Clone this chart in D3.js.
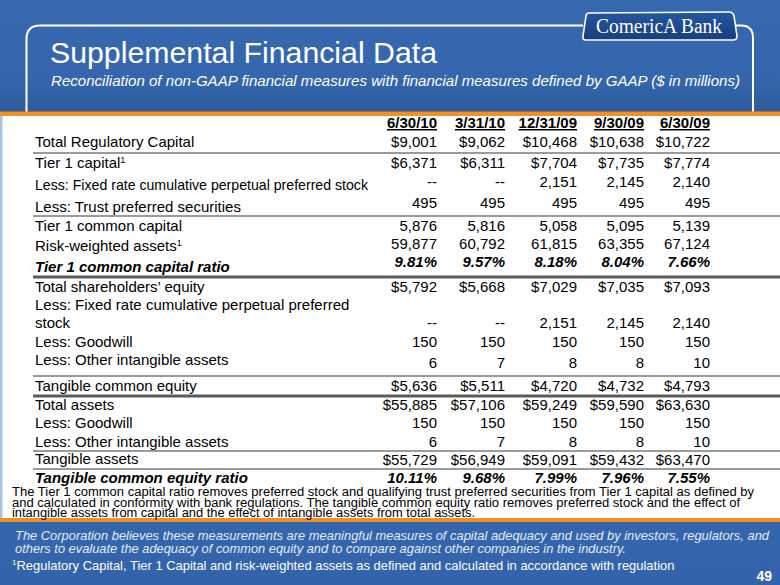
<!DOCTYPE html>
<html>
<head>
<meta charset="utf-8">
<script src="https://cdn.jsdelivr.net/npm/d3@7"></script>
<style>
  html, body { margin: 0; padding: 0; background: #fff; }
  svg { display: block; font-family: "Liberation Sans", Arial, sans-serif; }
</style>
</head>
<body>
<svg id="chart" width="780" height="585"></svg>
<script>
// ---------------- DATA ----------------
const periods = ["6/30/10", "3/31/10", "12/31/09", "9/30/09", "6/30/09"];

const totalRegulatoryCapital   = [9001, 9062, 10468, 10638, 10722];
const tier1Capital             = [6371, 6311, 7704, 7735, 7774];
const fixedRatePreferredStock  = [null, null, 2151, 2145, 2140];
const trustPreferredSecurities = [495, 495, 495, 495, 495];
const tier1CommonCapital       = [5876, 5816, 5058, 5095, 5139];
const riskWeightedAssets       = [59877, 60792, 61815, 63355, 67124];
const tier1CommonCapitalRatio  = [9.81, 9.57, 8.18, 8.04, 7.66];
const totalShareholdersEquity  = [5792, 5668, 7029, 7035, 7093];
const goodwill                 = [150, 150, 150, 150, 150];
const otherIntangibleAssets    = [6, 7, 8, 8, 10];
const tangibleCommonEquity     = [5636, 5511, 4720, 4732, 4793];
const totalAssets              = [55885, 57106, 59249, 59590, 63630];
const tangibleAssets           = [55729, 56949, 59091, 59432, 63470];
const tangibleCommonEquityRatio = [10.11, 9.68, 7.99, 7.96, 7.55];

const rowLabels = [
  "Total Regulatory Capital",
  "Tier 1 capital",
  "Less: Fixed rate cumulative perpetual preferred stock",
  "Less: Trust preferred securities",
  "Tier 1 common capital",
  "Risk-weighted assets",
  "Tier 1 common capital ratio",
  "Total shareholders\u2019 equity",
  "Less: Fixed rate cumulative perpetual preferred|stock",
  "Less: Goodwill",
  "Less: Other intangible assets",
  "Tangible common equity",
  "Total assets",
  "Less: Goodwill ",
  "Less: Other intangible assets ",
  "Tangible assets",
  "Tangible common equity ratio"
];

const titleText = "Supplemental Financial Data";
const subtitleText = "Reconciliation of non-GAAP financial measures with financial measures defined by GAAP ($ in millions)";
const noteLines = [
  "The Tier 1 common capital ratio removes preferred stock and qualifying trust preferred securities from Tier 1 capital as defined by",
  "and calculated in conformity with bank regulations.  The tangible common equity ratio removes preferred stock and the effect of",
  "intangible assets from capital and the effect of intangible assets from total assets."
];
const footerLines = [
  "The Corporation believes these measurements are meaningful measures of capital adequacy and used by investors, regulators, and",
  "others to evaluate the adequacy of common equity and to compare against other companies in the industry."
];
const footnoteText = "Regulatory Capital, Tier 1 Capital and risk-weighted assets as defined and calculated in accordance with regulation";
const pageNumber = "49";

// table built from the arrays
const rowValues = [
  totalRegulatoryCapital, tier1Capital, fixedRatePreferredStock, trustPreferredSecurities,
  tier1CommonCapital, riskWeightedAssets, tier1CommonCapitalRatio, totalShareholdersEquity,
  fixedRatePreferredStock, goodwill, otherIntangibleAssets, tangibleCommonEquity,
  totalAssets, goodwill, otherIntangibleAssets, tangibleAssets, tangibleCommonEquityRatio
];
const rowKinds = ["dollar","dollar","num","num","num","num","pct","dollar","num","num","num","dollar","dollar","num","num","dollar","pct"];
const rowSup = {"Tier 1 capital": "1", "Risk-weighted assets": "1"};
const rows = rowLabels.map((l, i) => ({label: l, values: rowValues[i], kind: rowKinds[i], sup: rowSup[l]}));

// ---------------- LAYOUT ----------------
const W = 780, H = 585;
const labelBase = [147, 168, 190, 212, 231, 251, 272, 292, 310, 347, 365, 391, 410, 428, 447, 464, 483];
const valueBase = [147, 168, 187, 208, 231, 249, 267, 292, 328, 347, 368, 391, 410, 428, 447, 465, 483];
const labelFit = {"Less: Fixed rate cumulative perpetual preferred stock": 333};
const yLabel = d3.scaleOrdinal().domain(rowLabels).range(labelBase);
const yValue = d3.scaleOrdinal().domain(rowLabels).range(valueBase);
const xCol = d3.scaleOrdinal().domain(periods).range([437, 505, 577, 644, 710]);

const rules = [
  {y: 153, w: 1.6, c: "#7a7a7a"},
  {y: 216, w: 1.6, c: "#7a7a7a"},
  {y: 277, w: 3.2, c: "#5a5a5a"},
  {y: 376, w: 1.6, c: "#7a7a7a"},
  {y: 396, w: 3.2, c: "#5a5a5a"},
  {y: 451, w: 1.6, c: "#7a7a7a"},
  {y: 469, w: 1.6, c: "#7a7a7a"}
];

const fmtComma = d3.format(",");
const fmtPct = d3.format(".2f");
function fmt(v, kind) {
  if (v === null || v === undefined) return "--";
  if (kind === "dollar") return "$" + fmtComma(v);
  if (kind === "pct") return fmtPct(v) + "%";
  return fmtComma(v);
}

// ---------------- DRAW ----------------
const svg = d3.select("#chart");
const defs = svg.append("defs");
const hg = defs.append("linearGradient").attr("id", "hdr").attr("x1", 0).attr("y1", 0).attr("x2", 0).attr("y2", 1);
hg.append("stop").attr("offset", "0%").attr("stop-color", "#3869B0");
hg.append("stop").attr("offset", "70%").attr("stop-color", "#3566AD");
hg.append("stop").attr("offset", "100%").attr("stop-color", "#2C5A9B");
const fg = defs.append("linearGradient").attr("id", "ftr").attr("x1", 0).attr("y1", 0).attr("x2", 0).attr("y2", 1);
fg.append("stop").attr("offset", "0%").attr("stop-color", "#3466AE");
fg.append("stop").attr("offset", "100%").attr("stop-color", "#3363AA");
const lg = defs.append("linearGradient").attr("id", "logo").attr("x1", 0).attr("y1", 0).attr("x2", 0).attr("y2", 1);
lg.append("stop").attr("offset", "0%").attr("stop-color", "#2456A0");
lg.append("stop").attr("offset", "100%").attr("stop-color", "#173F7E");

// header, white panel, footer
svg.append("rect").attr("x", 0).attr("y", 0).attr("width", W).attr("height", 113).attr("fill", "url(#hdr)");
svg.append("rect").attr("x", 0).attr("y", 113).attr("width", W).attr("height", 405).attr("fill", "#ffffff");
svg.append("rect").attr("x", 0).attr("y", 116).attr("width", 2.5).attr("height", 402).attr("fill", "#A9C3E6");
svg.append("rect").attr("x", 0).attr("y", 521).attr("width", W).attr("height", H - 521).attr("fill", "url(#ftr)");
svg.append("rect").attr("x", 0).attr("y", 111.5).attr("width", W).attr("height", 4.5).attr("fill", "#F39021");
svg.append("rect").attr("x", 0).attr("y", 518).attr("width", W).attr("height", 4).attr("fill", "#F39021");

// frame line
svg.append("path")
  .attr("d", "M583,25.5 L40,25.5 Q26.5,25.5 26.5,39 L26.5,111.5")
  .attr("fill", "none").attr("stroke", "#ffffff").attr("stroke-width", 2);
svg.append("path")
  .attr("d", "M735,25.5 L741,25.5 Q753,25.5 753,38 L753,111.5")
  .attr("fill", "none").attr("stroke", "#ffffff").attr("stroke-width", 2);

// logo
svg.append("path")
  .attr("d", "M589,13 L729,12 Q733,12 734,16 L737,36 Q737,40 733,40 L586,40 Q582,40 583,36 L586,16 Q586.5,13 589,13 Z")
  .attr("fill", "url(#logo)").attr("stroke", "#ffffff").attr("stroke-width", 1.6);
svg.append("text")
  .attr("x", 659).attr("y", 33).attr("text-anchor", "middle")
  .attr("font-family", "'Liberation Serif', 'DejaVu Serif', serif")
  .attr("font-size", 20).attr("fill", "#ffffff")
  .attr("textLength", 126).attr("lengthAdjust", "spacingAndGlyphs")
  .text("ComericA Bank");

// title
svg.append("text").attr("x", 50).attr("y", 63).attr("font-size", 29.5).attr("fill", "#ffffff")
  .attr("textLength", 387).attr("lengthAdjust", "spacingAndGlyphs").text(titleText);
svg.append("text").attr("x", 51).attr("y", 86).attr("font-size", 15).attr("font-style", "italic")
  .attr("fill", "#ffffff").attr("textLength", 689).attr("lengthAdjust", "spacingAndGlyphs").text(subtitleText);

// table rules
svg.append("g").selectAll("line").data(rules).join("line")
  .attr("x1", 33).attr("x2", W).attr("y1", d => d.y).attr("y2", d => d.y)
  .attr("stroke", d => d.c).attr("stroke-width", d => d.w);

// header dates
svg.append("g").selectAll("text").data(periods).join("text")
  .attr("x", d => xCol(d)).attr("y", 128).attr("text-anchor", "end")
  .attr("font-size", 15).attr("font-weight", "bold").attr("text-decoration", "underline")
  .attr("fill", "#000").text(d => d);

// row labels
const labG = svg.append("g");
rows.forEach(r => {
  const strong = r.kind === "pct";
  const parts = r.label.trim().split("|");
  parts.forEach((p, j) => {
    const t = labG.append("text")
      .attr("x", 35).attr("y", yLabel(r.label) + j * 18)
      .attr("font-size", 15).attr("fill", "#000")
      .attr("font-weight", strong ? "bold" : "normal")
      .attr("font-style", strong ? "italic" : "normal");
    const ts = t.append("tspan").text(p);
    if (labelFit[r.label]) ts.attr("textLength", labelFit[r.label]).attr("lengthAdjust", "spacingAndGlyphs");
    if (r.sup && j === parts.length - 1) {
      t.append("tspan").attr("font-size", 9).attr("dy", -5).text(r.sup);
    }
  });
});

// row values
const valG = svg.append("g");
rows.forEach(r => {
  const strong = r.kind === "pct";
  valG.append("g").selectAll("text").data(periods).join("text")
    .attr("x", d => xCol(d)).attr("y", yValue(r.label)).attr("text-anchor", "end")
    .attr("font-size", 15).attr("fill", "#000")
    .attr("font-weight", strong ? "bold" : "normal")
    .attr("font-style", strong ? "italic" : "normal")
    .text((d, i) => fmt(r.values[i], r.kind));
});

// explanatory note
const noteLen = [742, 728, 463];
svg.append("g").selectAll("text").data(noteLines).join("text")
  .attr("x", 12).attr("y", (d, i) => 496 + i * 10.5)
  .attr("font-size", 12.5).attr("fill", "#000")
  .attr("textLength", (d, i) => noteLen[i]).attr("lengthAdjust", "spacingAndGlyphs")
  .text(d => d);

// footer
const footLen = [754, 611];
svg.append("g").selectAll("text").data(footerLines).join("text")
  .attr("x", 15).attr("y", (d, i) => 540 + i * 12.5)
  .attr("font-size", 13).attr("font-style", "italic").attr("fill", "#E4ECF7")
  .attr("textLength", (d, i) => footLen[i]).attr("lengthAdjust", "spacingAndGlyphs")
  .text(d => d);
const fn = svg.append("text").attr("x", 12).attr("y", 570).attr("font-size", 13.5).attr("fill", "#ffffff");
fn.append("tspan").attr("font-size", 8).attr("dy", -5).text("1");
fn.append("tspan").attr("dy", 5).attr("textLength", 658).attr("lengthAdjust", "spacingAndGlyphs").text(footnoteText);
svg.append("text").attr("x", 772).attr("y", 581).attr("text-anchor", "end")
  .attr("font-size", 14).attr("font-weight", "bold").attr("fill", "#ffffff").text(pageNumber);
</script>
</body>
</html>
